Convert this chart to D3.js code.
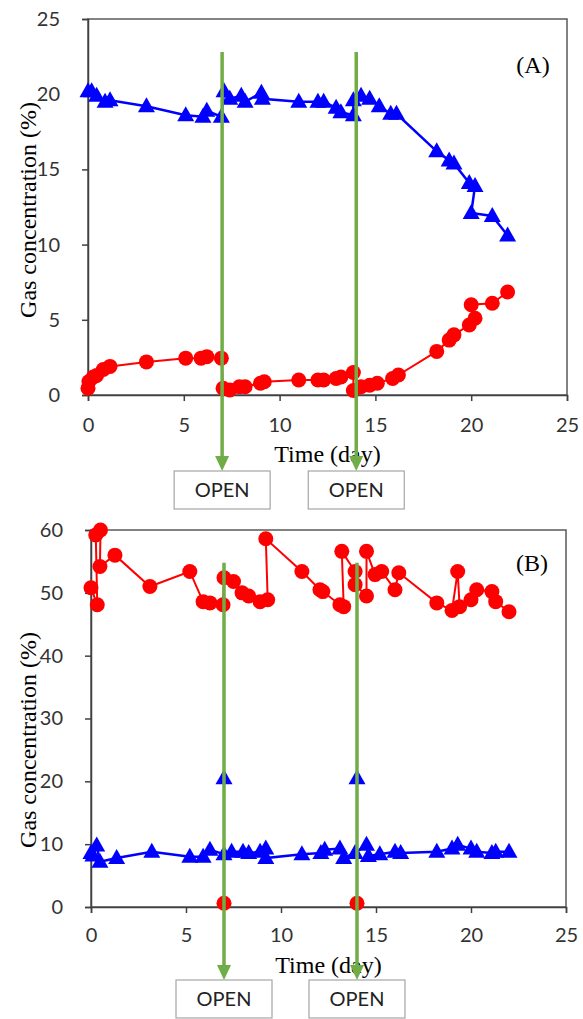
<!DOCTYPE html>
<html>
<head>
<meta charset="utf-8">
<script src="https://cdn.jsdelivr.net/npm/d3@7"></script>
<style>
  body { margin: 0; background: #fff; }
  svg { display: block; }
</style>
</head>
<body>
<div id="chart"></div>
<script>
// shared axis ticks / annotations
const dayTicks = [0, 5, 10, 15, 20, 25];
const ticksA = [0, 5, 10, 15, 20, 25];
const ticksB = [0, 10, 20, 30, 40, 50, 60];
const openDays = [7, 14];
const openLabel = "OPEN";

// panel A  [day, %]
const blueA = [[0,20.2],[0.19,20.2],[0.45,19.9],[0.89,19.5],[1.15,19.6],[3.05,19.2],[5.1,18.6],[6.0,18.5],[6.2,18.9],[6.96,18.5],
  [7.1,20.2],[7.4,19.7],[8.0,19.9],[8.2,19.5],[9.05,20.1],[9.1,19.7],[11.0,19.5],[12.0,19.5],[12.3,19.5],[12.95,19.1],[13.2,18.8],
  [13.85,18.6],[13.85,19.6],[14.25,19.9],[14.7,19.7],[15.2,19.2],[15.8,18.7],[16.1,18.7],[18.2,16.2],[18.85,15.6],[19.1,15.4],
  [19.9,14.1],[20.2,13.9],[20.0,12.1],[21.1,11.9],[21.9,10.6]];
const redA = [[0,0.45],[0.05,0.9],[0.28,1.2],[0.45,1.3],[0.8,1.7],[1.15,1.9],[3.05,2.2],[5.1,2.45],[5.9,2.45],[6.2,2.55],[6.96,2.45],
  [7.05,0.45],[7.4,0.33],[7.9,0.55],[8.2,0.55],[9.0,0.78],[9.2,0.88],[11.0,1.0],[12.0,1.0],[12.3,1.0],[12.95,1.1],[13.2,1.2],
  [13.85,1.5],[13.85,0.3],[14.25,0.55],[14.7,0.65],[15.1,0.78],[15.9,1.1],[16.2,1.33],[18.2,2.9],[18.85,3.65],[19.1,4.0],
  [19.9,4.65],[20.2,5.1],[20.0,6.0],[21.1,6.1],[21.9,6.85]];

// panel B  [day, %]
const blueB = [[0,8.6],[0.1,8.2],[0.3,9.8],[0.47,7.2],[1.35,7.8],[3.2,8.8],[5.2,8.0],[5.9,8.0],[6.26,9.1],[7.0,8.4],[7.4,8.8],
  [8.0,8.8],[8.3,8.6],[8.9,8.8],[9.2,9.3],[9.2,7.8],[11.1,8.4],[12.1,8.6],[12.3,9.1],[13.1,9.3],[13.3,7.8],[13.9,8.6],
  [14.5,9.9],[14.6,8.1],[15.2,8.4],[16.0,8.8],[16.3,8.6],[18.2,8.8],[19.0,9.3],[19.3,9.9],[20.0,9.3],[20.3,8.8],[21.1,8.6],
  [21.3,8.8],[22.0,8.8]];
const redB = [[0,50.8],[0.33,48.1],[0.25,59.2],[0.5,60],[0.47,54.2],[1.26,56],[3.1,51],[5.2,53.4],[5.9,48.6],[6.26,48.4],
  [6.95,48.1],[7.0,52.4],[7.5,51.8],[7.95,50],[8.3,49.5],[8.9,48.6],[9.3,48.9],[9.2,58.6],[11.1,53.4],[12.05,50.5],[12.2,50.2],
  [13.1,48.1],[13.3,47.8],[13.2,56.6],[13.9,53.4],[13.9,51.3],[14.5,49.5],[14.5,56.6],[14.95,52.9],[15.3,53.4],[16.0,50.5],
  [16.2,53.2],[18.2,48.4],[19.0,47.2],[19.3,53.4],[19.4,47.8],[20.0,48.9],[20.3,50.5],[21.1,50.2],[21.3,48.6],[22.0,47.0]];
const blueBOpen = [[7,20.5],[14,20.5]];
const redBOpen = [[7,0.6],[14,0.6]];

const W = 583, H = 1019;
const BLUE = "#0000ff", RED = "#ff0000", GREEN = "#70ad47";

const svg = d3.select("#chart").append("svg")
    .attr("width", W)
    .attr("height", H);

const tri = "M0,-9L8.5,6L-8.5,6Z";

function drawPanel(p) {
    var x = d3.scaleLinear().domain([0, 25]).range([p.left, p.right]);
    var y = d3.scaleLinear().domain([0, p.yMax]).range([p.bottom, p.top]);
    var g = svg.append("g");

    // plot frame
    g.append("rect")
        .attr("x", p.left).attr("y", p.top)
        .attr("width", p.right - p.left).attr("height", p.bottom - p.top)
        .attr("fill", "none").attr("stroke", "#595959").attr("stroke-width", 1.5);

    var xAxis = g.append("g")
        .attr("transform", "translate(0," + p.bottom + ")")
        .call(d3.axisBottom(x).tickValues(dayTicks).tickSize(6).tickPadding(p.xPad));
    var yAxis = g.append("g")
        .attr("transform", "translate(" + p.left + ",0)")
        .call(d3.axisLeft(y).tickValues(p.yTicks).tickSize(6).tickPadding(22));

    [xAxis, yAxis].forEach(function(a) {
        a.select(".domain").attr("stroke", "#404040").attr("stroke-width", 1.5);
        a.selectAll(".tick line").attr("stroke", "#404040").attr("stroke-width", 1.5);
        a.selectAll(".tick text")
            .attr("fill", "#333")
            .style("font-family", "Lato, 'Open Sans', sans-serif")
            .style("font-size", "20px");
    });

    g.append("text")
        .attr("x", x(12.5)).attr("y", p.bottom + p.titleDy)
        .attr("text-anchor", "middle")
        .style("font-family", "'Liberation Serif', 'Times New Roman', serif")
        .style("font-size", "24px")
        .text("Time (day)");

    g.append("text")
        .attr("transform", "translate(36," + p.yLabelY + ") rotate(-90)")
        .attr("text-anchor", "middle")
        .style("font-family", "'Liberation Serif', 'Times New Roman', serif")
        .style("font-size", "24px")
        .text("Gas concentration (%)");

    g.append("text")
        .attr("x", p.right - 34).attr("y", p.top + p.tagDy)
        .attr("text-anchor", "middle")
        .style("font-family", "'Liberation Serif', 'Times New Roman', serif")
        .style("font-size", "24px")
        .text(p.tag);

    var line = d3.line().x(function(d) { return x(d[0]); }).y(function(d) { return y(d[1]); });

    g.append("path").datum(p.red)
        .attr("d", line).attr("fill", "none").attr("stroke", RED).attr("stroke-width", 2);
    g.append("path").datum(p.blue)
        .attr("d", line).attr("fill", "none").attr("stroke", BLUE).attr("stroke-width", 2.5);

    g.selectAll(".red").data(p.red.concat(p.redExtra || []))
        .enter().append("circle")
        .attr("cx", function(d) { return x(d[0]); })
        .attr("cy", function(d) { return y(d[1]); })
        .attr("r", 7.5).attr("fill", RED);

    g.selectAll(".blue").data(p.blue.concat(p.blueExtra || []))
        .enter().append("path")
        .attr("d", tri)
        .attr("transform", function(d) { return "translate(" + x(d[0]) + "," + y(d[1]) + ")"; })
        .attr("fill", BLUE);

    // opening events: green arrow + OPEN box
    var ev = g.selectAll(".open").data(openDays).enter().append("g");
    ev.append("line")
        .attr("x1", function(d) { return x(d); }).attr("x2", function(d) { return x(d); })
        .attr("y1", y(p.arrowTop)).attr("y2", p.bottom + p.arrowLen - 12)
        .attr("stroke", GREEN).attr("stroke-width", 3.5);
    ev.append("path")
        .attr("d", function(d) {
            var cx = x(d), tip = p.bottom + p.arrowLen;
            return "M" + (cx - 7) + "," + (tip - 15) + "L" + (cx + 7) + "," + (tip - 15) + "L" + cx + "," + tip + "Z";
        })
        .attr("fill", GREEN);
    ev.append("rect")
        .attr("x", function(d) { return x(d) - 48; })
        .attr("y", p.bottom + p.arrowLen)
        .attr("width", 96).attr("height", 38)
        .attr("fill", "#fff").attr("stroke", "#a6a6a6").attr("stroke-width", 1.2);
    ev.append("text")
        .attr("x", function(d) { return x(d); })
        .attr("y", p.bottom + p.arrowLen + 26)
        .attr("text-anchor", "middle")
        .attr("fill", "#222")
        .style("font-family", "Lato, 'Open Sans', sans-serif")
        .style("font-size", "20px")
        .text(openLabel);
}

drawPanel({
    left: 88, right: 567, top: 19, bottom: 395,
    yMax: 25, yTicks: ticksA, xPad: 17, titleDy: 67, yLabelY: 210, tagDy: 54, tag: "(A)",
    blue: blueA, red: redA, arrowTop: 22.8, arrowLen: 76
});

drawPanel({
    left: 91, right: 566, top: 530, bottom: 907,
    yMax: 60, yTicks: ticksB, xPad: 15, titleDy: 66, yLabelY: 740, tagDy: 41, tag: "(B)",
    blue: blueB, red: redB, blueExtra: blueBOpen, redExtra: redBOpen, arrowTop: 54.8, arrowLen: 73
});
</script>
</body>
</html>
